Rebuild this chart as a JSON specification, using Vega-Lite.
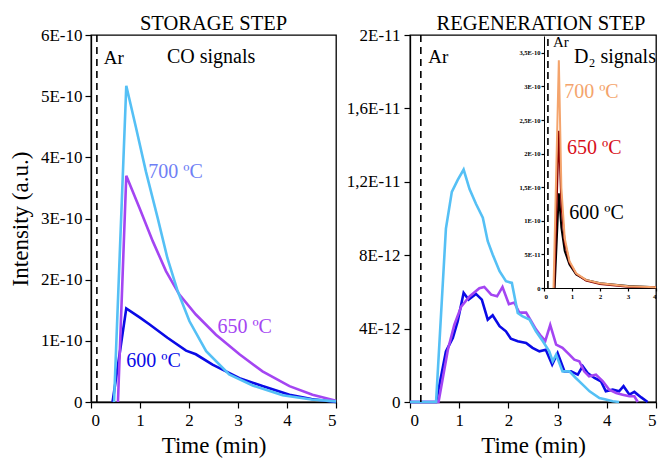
{
  "$schema": "https://vega.github.io/schema/vega-lite/v6.json",
  "padding": {"left": 8, "top": 12, "right": 0, "bottom": 0},
  "background": "white",
  "config": {
    "font": "Liberation Serif",
    "view": {"stroke": "black", "strokeWidth": 1.3},
    "axis": {"domainColor": "black", "tickColor": "black", "labelColor": "black", "titleColor": "black", "labelFont": "Liberation Serif", "titleFont": "Liberation Serif", "titleFontWeight": "normal", "grid": false, "domainWidth": 1.3, "tickWidth": 1.2},
    "title": {"font": "Liberation Serif", "fontWeight": "normal", "fontSize": 20.5, "color": "black"},
    "text": {"font": "Liberation Serif", "fontSize": 20}
  },
  "datasets": {
    "co": [
      {"t":0.44,"I":0,"T":"600"},{"t":0.72,"I":1.53e-10,"T":"600"},{"t":1.0,"I":1.38e-10,"T":"600"},{"t":1.19,"I":1.27e-10,"T":"600"},{"t":1.56,"I":1.05e-10,"T":"600"},{"t":1.94,"I":0.84e-10,"T":"600"},{"t":2.14,"I":0.78e-10,"T":"600"},{"t":2.48,"I":0.61e-10,"T":"600"},{"t":3.03,"I":0.39e-10,"T":"600"},{"t":3.5,"I":0.26e-10,"T":"600"},{"t":4.05,"I":0.12e-10,"T":"600"},{"t":4.5,"I":0.05e-10,"T":"600"},{"t":5.0,"I":0,"T":"600"},
      {"t":0.55,"I":0,"T":"650"},{"t":0.72,"I":3.70e-10,"T":"650"},{"t":0.99,"I":3.17e-10,"T":"650"},{"t":1.26,"I":2.63e-10,"T":"650"},{"t":1.53,"I":2.14e-10,"T":"650"},{"t":1.80,"I":1.76e-10,"T":"650"},{"t":2.14,"I":1.43e-10,"T":"650"},{"t":2.55,"I":1.10e-10,"T":"650"},{"t":3.03,"I":0.78e-10,"T":"650"},{"t":3.5,"I":0.50e-10,"T":"650"},{"t":4.05,"I":0.26e-10,"T":"650"},{"t":4.52,"I":0.12e-10,"T":"650"},{"t":5.0,"I":0.02e-10,"T":"650"},
      {"t":0.47,"I":0,"T":"700"},{"t":0.72,"I":5.17e-10,"T":"700"},{"t":0.92,"I":4.48e-10,"T":"700"},{"t":1.12,"I":3.77e-10,"T":"700"},{"t":1.36,"I":3.01e-10,"T":"700"},{"t":1.56,"I":2.35e-10,"T":"700"},{"t":1.77,"I":1.81e-10,"T":"700"},{"t":2.01,"I":1.32e-10,"T":"700"},{"t":2.35,"I":0.83e-10,"T":"700"},{"t":2.82,"I":0.45e-10,"T":"700"},{"t":3.3,"I":0.27e-10,"T":"700"},{"t":3.91,"I":0.11e-10,"T":"700"},{"t":4.5,"I":0.04e-10,"T":"700"},{"t":5.0,"I":0.01e-10,"T":"700"}
    ],
    "reg": [
      {"t":0,"I":0,"T":"600"},{"t":0.53,"I":0,"T":"600"},{"t":0.73,"I":2.76e-12,"T":"600"},{"t":0.87,"I":3.49e-12,"T":"600"},{"t":0.97,"I":4.4e-12,"T":"600"},{"t":1.09,"I":5.95e-12,"T":"600"},{"t":1.19,"I":5.58e-12,"T":"600"},{"t":1.34,"I":5.89e-12,"T":"600"},{"t":1.46,"I":5.58e-12,"T":"600"},{"t":1.58,"I":4.49e-12,"T":"600"},{"t":1.68,"I":4.73e-12,"T":"600"},{"t":1.82,"I":4.13e-12,"T":"600"},{"t":1.95,"I":3.85e-12,"T":"600"},{"t":2.05,"I":3.45e-12,"T":"600"},{"t":2.19,"I":3.31e-12,"T":"600"},{"t":2.36,"I":3.22e-12,"T":"600"},{"t":2.49,"I":2.95e-12,"T":"600"},{"t":2.63,"I":2.76e-12,"T":"600"},{"t":2.76,"I":2.85e-12,"T":"600"},{"t":2.89,"I":2.04e-12,"T":"600"},{"t":3.0,"I":2.67e-12,"T":"600"},{"t":3.14,"I":1.67e-12,"T":"600"},{"t":3.27,"I":1.67e-12,"T":"600"},{"t":3.41,"I":1.49e-12,"T":"600"},{"t":3.51,"I":1.95e-12,"T":"600"},{"t":3.61,"I":1.58e-12,"T":"600"},{"t":3.75,"I":1.31e-12,"T":"600"},{"t":3.88,"I":1.13e-12,"T":"600"},{"t":3.98,"I":0.58e-12,"T":"600"},{"t":4.12,"I":0.67e-12,"T":"600"},{"t":4.25,"I":0.58e-12,"T":"600"},{"t":4.34,"I":0.86e-12,"T":"600"},{"t":4.46,"I":0.4e-12,"T":"600"},{"t":4.56,"I":0.55e-12,"T":"600"},{"t":4.70,"I":0.25e-12,"T":"600"},{"t":4.83,"I":0,"T":"600"},
      {"t":0,"I":0,"T":"650"},{"t":0.58,"I":0,"T":"650"},{"t":0.77,"I":2.85e-12,"T":"650"},{"t":0.90,"I":4.2e-12,"T":"650"},{"t":1.04,"I":5.2e-12,"T":"650"},{"t":1.21,"I":5.75e-12,"T":"650"},{"t":1.41,"I":6.2e-12,"T":"650"},{"t":1.51,"I":6.27e-12,"T":"650"},{"t":1.65,"I":5.85e-12,"T":"650"},{"t":1.77,"I":5.76e-12,"T":"650"},{"t":1.88,"I":6.27e-12,"T":"650"},{"t":2.01,"I":5.33e-12,"T":"650"},{"t":2.12,"I":5.42e-12,"T":"650"},{"t":2.22,"I":4.87e-12,"T":"650"},{"t":2.36,"I":4.87e-12,"T":"650"},{"t":2.46,"I":4.42e-12,"T":"650"},{"t":2.56,"I":3.96e-12,"T":"650"},{"t":2.66,"I":3.6e-12,"T":"650"},{"t":2.75,"I":3.33e-12,"T":"650"},{"t":2.85,"I":4.2e-12,"T":"650"},{"t":2.97,"I":3.13e-12,"T":"650"},{"t":3.10,"I":2.95e-12,"T":"650"},{"t":3.24,"I":2.58e-12,"T":"650"},{"t":3.34,"I":2.31e-12,"T":"650"},{"t":3.44,"I":2.22e-12,"T":"650"},{"t":3.54,"I":1.67e-12,"T":"650"},{"t":3.64,"I":1.4e-12,"T":"650"},{"t":3.78,"I":1.49e-12,"T":"650"},{"t":3.92,"I":1.13e-12,"T":"650"},{"t":4.05,"I":0.67e-12,"T":"650"},{"t":4.19,"I":0.49e-12,"T":"650"},{"t":4.32,"I":0.4e-12,"T":"650"},{"t":4.46,"I":0.31e-12,"T":"650"},{"t":4.56,"I":0.31e-12,"T":"650"},{"t":4.63,"I":0,"T":"650"},
      {"t":0,"I":0,"T":"700"},{"t":0.53,"I":0,"T":"700"},{"t":0.73,"I":9.45e-12,"T":"700"},{"t":0.85,"I":11.45e-12,"T":"700"},{"t":0.97,"I":12.1e-12,"T":"700"},{"t":1.09,"I":12.67e-12,"T":"700"},{"t":1.21,"I":11.6e-12,"T":"700"},{"t":1.34,"I":10.8e-12,"T":"700"},{"t":1.48,"I":10.04e-12,"T":"700"},{"t":1.58,"I":8.76e-12,"T":"700"},{"t":1.68,"I":8.04e-12,"T":"700"},{"t":1.82,"I":7.13e-12,"T":"700"},{"t":1.95,"I":6.58e-12,"T":"700"},{"t":2.07,"I":6.49e-12,"T":"700"},{"t":2.19,"I":4.85e-12,"T":"700"},{"t":2.29,"I":4.67e-12,"T":"700"},{"t":2.43,"I":4.49e-12,"T":"700"},{"t":2.56,"I":3.85e-12,"T":"700"},{"t":2.70,"I":3.31e-12,"T":"700"},{"t":2.83,"I":2.76e-12,"T":"700"},{"t":2.90,"I":2.22e-12,"T":"700"},{"t":2.97,"I":2.58e-12,"T":"700"},{"t":3.10,"I":1.67e-12,"T":"700"},{"t":3.24,"I":1.67e-12,"T":"700"},{"t":3.37,"I":1.31e-12,"T":"700"},{"t":3.51,"I":0.95e-12,"T":"700"},{"t":3.65,"I":0.58e-12,"T":"700"},{"t":3.85,"I":0.22e-12,"T":"700"},{"t":3.98,"I":0.13e-12,"T":"700"},{"t":4.12,"I":0.04e-12,"T":"700"},{"t":4.25,"I":0,"T":"700"}
    ],
    "d2": [
      {"t":0.38,"I":0,"T":"600"},{"t":0.53,"I":1.41e-10,"T":"600"},{"t":0.62,"I":0.9e-10,"T":"600"},{"t":0.74,"I":0.55e-10,"T":"600"},{"t":0.91,"I":0.35e-10,"T":"600"},{"t":1.15,"I":0.2e-10,"T":"600"},{"t":1.5,"I":0.12e-10,"T":"600"},{"t":2.0,"I":0.07e-10,"T":"600"},{"t":3.0,"I":0.03e-10,"T":"600"},{"t":4.0,"I":0.01e-10,"T":"600"},
      {"t":0.36,"I":0,"T":"650"},{"t":0.53,"I":2.34e-10,"T":"650"},{"t":0.62,"I":1.25e-10,"T":"650"},{"t":0.74,"I":0.68e-10,"T":"650"},{"t":0.91,"I":0.38e-10,"T":"650"},{"t":1.15,"I":0.21e-10,"T":"650"},{"t":1.5,"I":0.11e-10,"T":"650"},{"t":2.0,"I":0.06e-10,"T":"650"},{"t":3.0,"I":0.02e-10,"T":"650"},{"t":4.0,"I":0.01e-10,"T":"650"},
      {"t":0.34,"I":0,"T":"700"},{"t":0.53,"I":3.39e-10,"T":"700"},{"t":0.62,"I":1.49e-10,"T":"700"},{"t":0.74,"I":0.74e-10,"T":"700"},{"t":0.91,"I":0.40e-10,"T":"700"},{"t":1.15,"I":0.22e-10,"T":"700"},{"t":1.5,"I":0.12e-10,"T":"700"},{"t":2.0,"I":0.07e-10,"T":"700"},{"t":3.0,"I":0.025e-10,"T":"700"},{"t":4.0,"I":0.01e-10,"T":"700"}
    ]
  },
  "bounds": "flush",
  "spacing": 74,
  "resolve": {"scale": {"color": "independent"}},
  "hconcat": [
    {
      "width": 245, "height": 367,
      "title": {"text": "STORAGE STEP", "offset": -8},
      "layer": [
        {
          "data": {"name": "co"},
          "mark": {"type": "line", "strokeWidth": 2.6},
          "encoding": {
            "x": {"field": "t", "type": "quantitative", "scale": {"domain": [0, 5], "nice": false},
              "axis": {"title": "Time (min)", "titleFontSize": 23, "titlePadding": 6, "labelFontSize": 17, "labelPadding": 4, "values": [0,0.5,1,1.5,2,2.5,3,3.5,4,4.5,5], "labelExpr": "datum.value % 1 == 0 ? datum.label : ''", "tickSize": {"condition": {"test": "datum.value % 1 == 0", "value": 6}, "value": 4}}},
            "y": {"field": "I", "type": "quantitative", "scale": {"domain": [0, 6e-10], "nice": false},
              "axis": {"title": "Intensity (a.u.)", "titleFontSize": 23, "titlePadding": 8, "labelFontSize": 17, "labelPadding": 3, "values": [0,5e-11,1e-10,1.5e-10,2e-10,2.5e-10,3e-10,3.5e-10,4e-10,4.5e-10,5e-10,5.5e-10,6e-10], "labelExpr": "abs(datum.value*1e10-round(datum.value*1e10))<0.01 ? (datum.value==0 ? '0' : round(datum.value*1e10)+'E-10') : ''", "tickSize": {"condition": {"test": "abs(datum.value*1e10-round(datum.value*1e10))<0.01", "value": 6}, "value": 4}}},
            "color": {"field": "T", "type": "nominal", "scale": {"domain": ["600", "650", "700"], "range": ["#0a0ae6", "#a445f2", "#55c0f5"]}, "legend": null}
          }
        },
        {"data": {"values": [{}]}, "mark": {"type": "rule", "strokeDash": [7, 5], "strokeWidth": 1.6, "color": "black"}, "encoding": {"x": {"datum": 0.12}}},
        {"data": {"values": [{}]}, "mark": {"type": "text", "text": "Ar", "align": "left", "baseline": "alphabetic", "fontSize": 19, "color": "black"}, "encoding": {"x": {"datum": 0.26}, "y": {"datum": 5.52e-10}}},
        {"data": {"values": [{}]}, "mark": {"type": "text", "text": "CO signals", "align": "center", "baseline": "alphabetic", "fontSize": 20, "color": "black"}, "encoding": {"x": {"datum": 2.45}, "y": {"datum": 5.55e-10}}},
        {"data": {"values": [{}]}, "mark": {"type": "text", "text": "700 ºC", "align": "left", "baseline": "alphabetic", "fontSize": 20, "color": "#6f7ff5"}, "encoding": {"x": {"datum": 1.17}, "y": {"datum": 3.67e-10}}},
        {"data": {"values": [{}]}, "mark": {"type": "text", "text": "650 ºC", "align": "left", "baseline": "alphabetic", "fontSize": 20, "color": "#a445f2"}, "encoding": {"x": {"datum": 2.58}, "y": {"datum": 1.13e-10}}},
        {"data": {"values": [{}]}, "mark": {"type": "text", "text": "600 ºC", "align": "left", "baseline": "alphabetic", "fontSize": 20, "color": "#0a0ae6"}, "encoding": {"x": {"datum": 0.72}, "y": {"datum": 0.58e-10}}}
      ]
    },
    {
      "width": 246, "height": 367,
      "title": {"text": "REGENERATION STEP", "offset": -8, "dx": 8},
      "resolve": {"scale": {"x": "independent", "y": "independent", "color": "independent"}},
      "layer": [
        {
          "layer": [
            {
              "data": {"name": "reg"},
              "mark": {"type": "line", "strokeWidth": 2.6},
              "encoding": {
                "x": {"field": "t", "type": "quantitative", "scale": {"domain": [0, 5], "nice": false},
                  "axis": {"title": "Time (min)", "titleFontSize": 23, "titlePadding": 6, "labelFontSize": 17, "labelPadding": 4, "values": [0,0.5,1,1.5,2,2.5,3,3.5,4,4.5,5], "labelExpr": "datum.value % 1 == 0 ? datum.label : ''", "tickSize": {"condition": {"test": "datum.value % 1 == 0", "value": 6}, "value": 4}}},
                "y": {"field": "I", "type": "quantitative", "scale": {"domain": [0, 2e-11], "nice": false},
                  "axis": {"title": null, "labelFontSize": 17, "labelPadding": 4, "values": [0,2e-12,4e-12,6e-12,8e-12,1e-11,1.2e-11,1.4e-11,1.6e-11,1.8e-11,2e-11], "labelExpr": "round(datum.value*1e12)%4!=0 ? '' : datum.value==0 ? '0' : round(datum.value*1e12)>=10 ? replace(format(round(datum.value*1e12)/10,'.1~f'),'.',',')+'E-11' : round(datum.value*1e12)+'E-12'", "tickSize": {"condition": {"test": "round(datum.value*1e12)%4==0", "value": 6}, "value": 4}}},
                "color": {"field": "T", "type": "nominal", "scale": {"domain": ["600", "650", "700"], "range": ["#0a0ae6", "#a445f2", "#55c0f5"]}, "legend": null}
              }
            },
            {"data": {"values": [{}]}, "mark": {"type": "rule", "strokeDash": [7, 5], "strokeWidth": 1.6, "color": "black"}, "encoding": {"x": {"datum": 0.22}}},
            {"data": {"values": [{}]}, "mark": {"type": "text", "text": "Ar", "align": "left", "baseline": "alphabetic", "fontSize": 19, "color": "black"}, "encoding": {"x": {"datum": 0.37}, "y": {"datum": 1.85e-11}}}
          ]
        },
        {
          "layer": [
            {
              "data": {"name": "d2"},
              "mark": {"type": "line", "strokeWidth": 2},
              "encoding": {
                "x": {"field": "t", "type": "quantitative", "scale": {"domain": [0, 4], "nice": false, "range": [134, 246]},
                  "axis": {"title": null, "orient": "bottom", "offset": -114, "labelFontSize": 7, "labelFontWeight": "bold", "labelPadding": 1, "values": [0,1,2,3,4], "labelExpr": "format(datum.value,'d')", "tickSize": 3, "domainWidth": 1}},
                "y": {"field": "I", "type": "quantitative", "scale": {"domain": [0, 3.75e-10], "nice": false, "range": [253, 1]},
                  "axis": {"title": null, "orient": "left", "offset": -134, "labelFontSize": 6.5, "labelFontWeight": "bold", "labelPadding": 1, "values": [0,5e-11,1e-10,1.5e-10,2e-10,2.5e-10,3e-10,3.5e-10], "tickSize": 3, "domainWidth": 1, "labelExpr": "datum.value==0 ? '0' : round(datum.value*1e11)==5 ? '5E-11' : replace(format(round(datum.value*1e11)/10,'.1~f'),'.',',')+'E-10'"}},
                "color": {"field": "T", "type": "nominal", "scale": {"domain": ["600", "650", "700"], "range": ["#000000", "#8b0000", "#f4a46c"]}, "legend": null}
              }
            },
            {"data": {"values": [{}]}, "mark": {"type": "rule", "strokeDash": [7, 4], "strokeWidth": 1.6, "color": "black"}, "encoding": {"x": {"datum": 0.14}, "y": {"datum": 0}, "y2": {"datum": 3.75e-10}}},
            {"data": {"values": [{}]}, "mark": {"type": "text", "text": "Ar", "align": "left", "baseline": "alphabetic", "fontSize": 15, "color": "black"}, "encoding": {"x": {"datum": 0.32}, "y": {"datum": 3.59e-10}}},
            {"data": {"values": [{}]}, "mark": {"type": "text", "text": "D₂ signals", "align": "left", "baseline": "alphabetic", "fontSize": 20, "color": "black"}, "encoding": {"x": {"datum": 1.07}, "y": {"datum": 3.35e-10}}},
            {"data": {"values": [{}]}, "mark": {"type": "text", "text": "700 ºC", "align": "left", "baseline": "alphabetic", "fontSize": 20, "color": "#f4a46c"}, "encoding": {"x": {"datum": 0.72}, "y": {"datum": 2.82e-10}}},
            {"data": {"values": [{}]}, "mark": {"type": "text", "text": "650 ºC", "align": "left", "baseline": "alphabetic", "fontSize": 20, "color": "#d8101a"}, "encoding": {"x": {"datum": 0.82}, "y": {"datum": 2.0e-10}}},
            {"data": {"values": [{}]}, "mark": {"type": "text", "text": "600 ºC", "align": "left", "baseline": "alphabetic", "fontSize": 20, "color": "black"}, "encoding": {"x": {"datum": 0.90}, "y": {"datum": 1.02e-10}}}
          ]
        }
      ]
    }
  ]
}
